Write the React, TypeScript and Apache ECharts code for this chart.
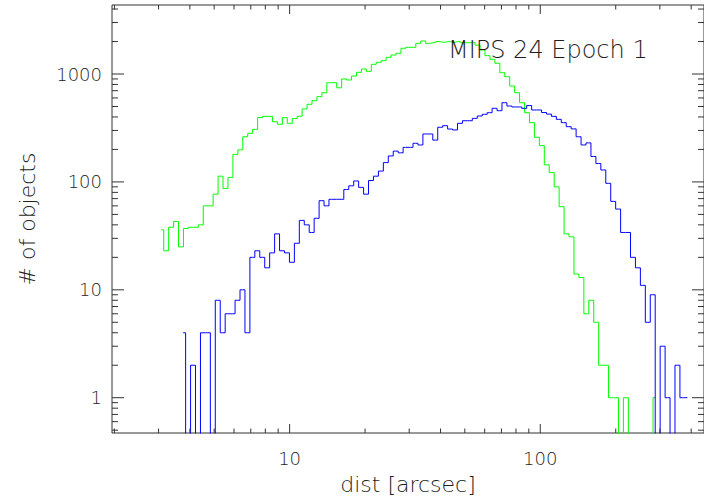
import React, { useEffect, useRef } from 'react';
import * as echarts from 'echarts';

// Histogram counts per logarithmic bin
const greenCounts = [
  36, 23, 38, 43, 25, 37, 38, 38, 40, 60,
  60, 77, 113, 87, 110, 180, 198, 262, 282, 307,
  395, 405, 405, 361, 342, 394, 349, 387, 406, 474,
  524, 566, 617, 671, 830, 830, 745, 899, 880, 958,
  1037, 1112, 1059, 1230, 1284, 1328, 1428, 1500, 1556, 1731,
  1767, 1767, 1924, 2022, 1924, 1950, 1995, 1970, 1995, 1970,
  1995, 1950, 1950, 1950, 1850, 1668, 1479, 1369, 1256, 1028,
  944, 774, 671, 542, 438, 354, 259, 217, 144, 122,
  90, 59, 33, 31, 14, 13, 6, 8, 5, 2,
  2, 1, 1, 0, 1, 0, 0, 0, 0, 0,
  1,
];

const blueCounts = [
  4, 0, 2, 0, 4, 4, 0, 8, 4, 6,
  6, 8, 10, 4, 20, 23, 20, 16, 22, 33,
  23, 22, 18, 27, 44, 40, 34, 46, 67, 60,
  69, 69, 69, 85, 92, 102, 89, 77, 103, 113,
  126, 151, 174, 193, 186, 209, 209, 228, 220, 278,
  278, 244, 321, 332, 309, 303, 349, 369, 369, 388,
  408, 423, 438, 481, 457, 542, 505, 495, 495, 480,
  510, 464, 464, 440, 425, 405, 380, 354, 325, 310,
  262, 220, 230, 172, 148, 129, 97, 66, 56, 34,
  34, 20, 16, 11, 5, 9, 0, 3, 1, 0,
  2, 1, 1,
];

// Bin grid (log10 of first bin centre, bin width in dex)
const GREEN_FIRST_BIN_LOG10 = 0.4878;
const BLUE_FIRST_BIN_LOG10 = 0.5753;
const BIN_WIDTH_DEX = 0.01972;

// Axis ranges
const X_MIN = 1.956;
const X_MAX = 450;
const Y_MIN = 0.471;
const Y_MAX = 4360;

// Tick values
const xMajorTicks = [10, 100];
const xMinorTicks = [2, 3, 4, 5, 6, 7, 8, 9, 20, 30, 40, 50, 60, 70, 80, 90, 200, 300, 400];
const yMajorTicks = [1, 10, 100, 1000];
const yMinorTicks = [
  0.5, 0.6, 0.7, 0.8, 0.9,
  2, 3, 4, 5, 6, 7, 8, 9,
  20, 30, 40, 50, 60, 70, 80, 90,
  200, 300, 400, 500, 600, 700, 800, 900,
  2000, 3000, 4000,
];

const TITLE = 'MIPS 24 Epoch 1';
const X_NAME = 'dist [arcsec]';
const Y_NAME = '# of objects';

const ZERO_PLOT_VALUE = 0.1; // empty bins fall below the axis and are clipped
const FONT = 'DejaVu Sans';
const INK = '#333333';
const TEXT_INK = '#1e1e1e';
const TEXT_WEIGHT = 200;

function toSeries(counts: number[], firstLog: number) {
  return counts.map((c, i) => [
    Math.pow(10, firstLog + i * BIN_WIDTH_DEX),
    c > 0 ? c : ZERO_PLOT_VALUE,
  ]);
}

function isDecade(v: number) {
  const l = Math.log10(v);
  return Math.abs(l - Math.round(l)) < 1e-6;
}

export default function App() {
  const ref = useRef<HTMLDivElement>(null);

  useEffect(() => {
    if (!ref.current) return;
    const chart = echarts.init(ref.current, undefined, { renderer: 'svg' });

    const xTickData = [
      ...xMajorTicks.map((v) => [v, 1, 1]),
      ...xMinorTicks.map((v) => [v, 1, 0]),
    ];
    const yTickData = [
      ...yMajorTicks.map((v) => [10, v, 1]),
      ...yMinorTicks.map((v) => [10, v, 0]),
    ];

    const option: any = {
      animation: false,
      backgroundColor: '#ffffff',
      grid: {
        left: 112,
        top: 5,
        width: 599,
        height: 428,
        show: true,
        borderColor: INK,
        borderWidth: 1,
        backgroundColor: 'transparent',
      },
      graphic: [
        {
          type: 'text',
          left: 448,
          top: 38,
          z: 10,
          style: {
            text: TITLE,
            font: `${TEXT_WEIGHT} 24px "${FONT}"`,
            fill: TEXT_INK,
          },
        },
      ],
      xAxis: {
        type: 'log',
        logBase: 10,
        min: X_MIN,
        max: X_MAX,
        name: X_NAME,
        nameLocation: 'middle',
        nameGap: 40,
        nameTextStyle: { fontFamily: FONT, fontSize: 22, fontWeight: TEXT_WEIGHT, color: TEXT_INK },
        axisLine: { show: false },
        axisTick: { show: false },
        splitLine: { show: false },
        axisLabel: {
          margin: 16,
          fontFamily: FONT,
          fontSize: 18,
          fontWeight: TEXT_WEIGHT,
          color: TEXT_INK,
          showMinLabel: false,
          showMaxLabel: false,
          formatter: (v: number) => (isDecade(v) ? String(Math.round(v)) : ''),
        },
      },
      yAxis: {
        type: 'log',
        logBase: 10,
        min: Y_MIN,
        max: Y_MAX,
        name: Y_NAME,
        nameLocation: 'middle',
        nameRotate: 90,
        nameGap: 74,
        nameTextStyle: { fontFamily: FONT, fontSize: 22, fontWeight: TEXT_WEIGHT, color: TEXT_INK },
        axisLine: { show: false },
        axisTick: { show: false },
        splitLine: { show: false },
        axisLabel: {
          margin: 10,
          fontFamily: FONT,
          fontSize: 18,
          fontWeight: TEXT_WEIGHT,
          color: TEXT_INK,
          showMinLabel: false,
          showMaxLabel: false,
          formatter: (v: number) => (isDecade(v) ? String(Math.round(v)) : ''),
        },
      },
      series: [
        {
          type: 'line',
          name: 'green',
          data: toSeries(greenCounts, GREEN_FIRST_BIN_LOG10),
          step: 'middle',
          showSymbol: false,
          symbol: 'none',
          clip: true,
          lineStyle: { color: '#00ff00', width: 1 },
          z: 3,
        },
        {
          type: 'line',
          name: 'blue',
          data: toSeries(blueCounts, BLUE_FIRST_BIN_LOG10),
          step: 'middle',
          showSymbol: false,
          symbol: 'none',
          clip: true,
          lineStyle: { color: '#0000ff', width: 1 },
          z: 4,
        },
        {
          type: 'custom',
          name: 'xticks',
          data: xTickData,
          clip: false,
          silent: true,
          z: 5,
          renderItem: (params: any, api: any) => {
            const cs = params.coordSys;
            const x = api.coord([api.value(0), 1])[0];
            const len = api.value(2) ? 9 : 4.5;
            const bottom = cs.y + cs.height;
            const style = { stroke: INK, lineWidth: 1 };
            return {
              type: 'group',
              children: [
                { type: 'line', shape: { x1: x, y1: bottom, x2: x, y2: bottom - len }, style },
                { type: 'line', shape: { x1: x, y1: cs.y, x2: x, y2: cs.y + len }, style },
              ],
            };
          },
        },
        {
          type: 'custom',
          name: 'yticks',
          data: yTickData,
          clip: false,
          silent: true,
          z: 5,
          renderItem: (params: any, api: any) => {
            const cs = params.coordSys;
            const y = api.coord([10, api.value(1)])[1];
            const len = api.value(2) ? 12 : 6;
            const right = cs.x + cs.width;
            const style = { stroke: INK, lineWidth: 1 };
            return {
              type: 'group',
              children: [
                { type: 'line', shape: { x1: cs.x, y1: y, x2: cs.x + len, y2: y }, style },
                { type: 'line', shape: { x1: right, y1: y, x2: right - len, y2: y }, style },
              ],
            };
          },
        },
      ],
    };

    chart.setOption(option);
    return () => chart.dispose();
  }, []);

  return (
    <div
      ref={ref}
      style={{ position: 'absolute', left: 0, top: 0, width: 704, height: 501, background: '#fff' }}
    />
  );
}
